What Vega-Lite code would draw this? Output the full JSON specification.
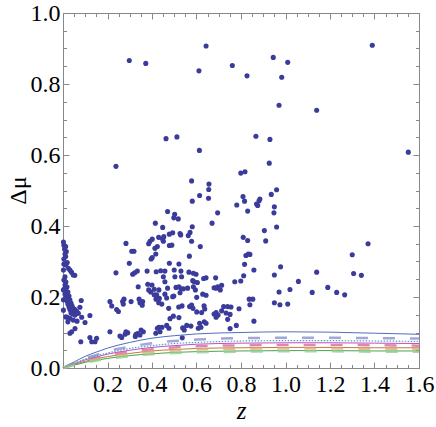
{
"$schema":"https://vega.github.io/schema/vega-lite/v6.json",
"width":356,"height":355,
"autosize":"none",
"padding":{"left":63,"top":13,"right":17,"bottom":59},
"background":"white",
"config":{"view":{"stroke":null},"axis":{"grid":false}},
"datasets":{
"pts":[
{"z":0.298,"m":0.866},{"z":0.372,"m":0.858},{"z":0.238,"m":0.568},{"z":0.463,"m":0.646},{"z":0.512,"m":0.651},{"z":0.613,"m":0.613},{"z":0.611,"m":0.837},{"z":0.643,"m":0.907},{"z":0.761,"m":0.852},{"z":0.827,"m":0.823},
{"z":0.578,"m":0.527},{"z":0.799,"m":0.549},{"z":0.818,"m":0.553},{"z":0.656,"m":0.518},{"z":0.655,"m":0.503},{"z":0.614,"m":0.486},{"z":0.654,"m":0.478},{"z":0.809,"m":0.483},{"z":0.945,"m":0.875},{"z":1.010,"m":0.861},
{"z":0.983,"m":0.819},{"z":0.971,"m":0.740},{"z":1.140,"m":0.726},{"z":1.390,"m":0.909},{"z":1.552,"m":0.608},{"z":0.867,"m":0.653},{"z":0.930,"m":0.644},{"z":0.927,"m":0.577},{"z":0.936,"m":0.489},{"z":0.960,"m":0.502},
{"z":0.885,"m":0.476},{"z":1.371,"m":0.350},{"z":1.300,"m":0.319},{"z":1.140,"m":0.270},{"z":1.306,"m":0.266},{"z":1.341,"m":0.261},{"z":1.190,"m":0.227},{"z":1.120,"m":0.213},{"z":1.230,"m":0.213},{"z":1.266,"m":0.206},
{"z":1.058,"m":0.244},{"z":0.781,"m":0.459},{"z":0.816,"m":0.470},{"z":0.830,"m":0.442},{"z":0.870,"m":0.462},{"z":0.875,"m":0.458},{"z":0.881,"m":0.471},{"z":0.950,"m":0.454},{"z":0.948,"m":0.437},{"z":0.960,"m":0.397},
{"z":0.905,"m":0.387},{"z":0.911,"m":0.358},{"z":0.810,"m":0.368},{"z":0.830,"m":0.359},{"z":0.822,"m":0.317},{"z":0.833,"m":0.321},{"z":0.840,"m":0.320},{"z":0.816,"m":0.292},{"z":0.858,"m":0.276},{"z":0.812,"m":0.260},
{"z":0.772,"m":0.243},{"z":0.799,"m":0.245},{"z":0.950,"m":0.262},{"z":0.978,"m":0.285},{"z":0.971,"m":0.214},{"z":1.020,"m":0.221},{"z":0.755,"m":0.172},{"z":0.791,"m":0.167},{"z":0.837,"m":0.194},{"z":0.853,"m":0.194},
{"z":0.840,"m":0.178},{"z":0.950,"m":0.184},{"z":0.975,"m":0.178},{"z":1.010,"m":0.180},{"z":0.751,"m":0.151},{"z":0.779,"m":0.120},{"z":0.858,"m":0.132},{"z":0.751,"m":0.111},{"z":0.695,"m":0.437},{"z":0.670,"m":0.408},
{"z":0.686,"m":0.254},{"z":0.679,"m":0.226},{"z":0.688,"m":0.225},{"z":0.713,"m":0.233},{"z":0.707,"m":0.220},{"z":0.688,"m":0.156},{"z":0.679,"m":0.152},{"z":0.688,"m":0.143},{"z":0.697,"m":0.149},{"z":0.713,"m":0.161},
{"z":0.722,"m":0.173},{"z":0.740,"m":0.173},{"z":0.733,"m":0.155},{"z":0.740,"m":0.137},{"z":0.581,"m":0.470},{"z":0.470,"m":0.441},{"z":0.502,"m":0.433},{"z":0.498,"m":0.423},{"z":0.518,"m":0.420},{"z":0.415,"m":0.408},
{"z":0.448,"m":0.396},{"z":0.581,"m":0.398},{"z":0.526,"m":0.379},{"z":0.529,"m":0.375},{"z":0.493,"m":0.381},{"z":0.478,"m":0.377},{"z":0.571,"m":0.382},{"z":0.563,"m":0.373},{"z":0.453,"m":0.370},{"z":0.448,"m":0.363},
{"z":0.430,"m":0.368},{"z":0.451,"m":0.357},{"z":0.401,"m":0.363},{"z":0.391,"m":0.357},{"z":0.385,"m":0.350},{"z":0.283,"m":0.351},{"z":0.578,"m":0.357},{"z":0.478,"m":0.345},{"z":0.489,"m":0.346},{"z":0.413,"m":0.337},
{"z":0.424,"m":0.342},{"z":0.617,"m":0.342},{"z":0.309,"m":0.329},{"z":0.319,"m":0.329},{"z":0.298,"m":0.295},{"z":0.322,"m":0.268},{"z":0.313,"m":0.264},{"z":0.378,"m":0.273},{"z":0.419,"m":0.271},{"z":0.439,"m":0.274},
{"z":0.458,"m":0.273},{"z":0.417,"m":0.321},{"z":0.401,"m":0.311},{"z":0.396,"m":0.307},{"z":0.478,"m":0.295},{"z":0.521,"m":0.293},{"z":0.500,"m":0.276},{"z":0.530,"m":0.273},{"z":0.451,"m":0.257},{"z":0.458,"m":0.243},
{"z":0.568,"m":0.315},{"z":0.566,"m":0.270},{"z":0.586,"m":0.267},{"z":0.598,"m":0.264},{"z":0.590,"m":0.243},{"z":0.604,"m":0.241},{"z":0.643,"m":0.254},{"z":0.695,"m":0.229},{"z":0.381,"m":0.236},{"z":0.400,"m":0.234},
{"z":0.385,"m":0.220},{"z":0.394,"m":0.214},{"z":0.410,"m":0.222},{"z":0.410,"m":0.206},{"z":0.418,"m":0.194},{"z":0.433,"m":0.196},{"z":0.530,"m":0.223},{"z":0.541,"m":0.223},{"z":0.526,"m":0.212},{"z":0.560,"m":0.225},
{"z":0.498,"m":0.203},{"z":0.466,"m":0.197},{"z":0.628,"m":0.208},{"z":0.643,"m":0.205},{"z":0.274,"m":0.194},{"z":0.268,"m":0.187},{"z":0.271,"m":0.180},{"z":0.306,"m":0.187},{"z":0.342,"m":0.194},{"z":0.346,"m":0.184},
{"z":0.358,"m":0.187},{"z":0.356,"m":0.177},{"z":0.444,"m":0.180},{"z":0.430,"m":0.184},{"z":0.475,"m":0.168},{"z":0.520,"m":0.172},{"z":0.535,"m":0.175},{"z":0.569,"m":0.173},{"z":0.584,"m":0.168},{"z":0.578,"m":0.177},
{"z":0.634,"m":0.175},{"z":0.637,"m":0.166},{"z":0.601,"m":0.158},{"z":0.623,"m":0.156},{"z":0.496,"m":0.146},{"z":0.481,"m":0.139},{"z":0.521,"m":0.142},{"z":0.445,"m":0.115},{"z":0.431,"m":0.115},{"z":0.424,"m":0.112},
{"z":0.417,"m":0.098},{"z":0.466,"m":0.120},{"z":0.476,"m":0.112},{"z":0.556,"m":0.120},{"z":0.575,"m":0.118},{"z":0.538,"m":0.113},{"z":0.545,"m":0.107},{"z":0.608,"m":0.112},{"z":0.620,"m":0.115},{"z":0.635,"m":0.130},
{"z":0.643,"m":0.126},{"z":0.614,"m":0.126},{"z":0.351,"m":0.107},{"z":0.361,"m":0.102},{"z":0.336,"m":0.097},{"z":0.325,"m":0.089},{"z":0.328,"m":0.095},{"z":0.283,"m":0.102},{"z":0.291,"m":0.099},{"z":0.279,"m":0.095},
{"z":0.536,"m":0.085},{"z":0.238,"m":0.268},{"z":0.211,"m":0.187},{"z":0.219,"m":0.175},{"z":0.241,"m":0.165},{"z":0.249,"m":0.159},{"z":0.264,"m":0.086},{"z":0.334,"m":0.273},{"z":0.338,"m":0.229},{"z":0.431,"m":0.220},
{"z":0.421,"m":0.206},{"z":0.470,"m":0.225},{"z":0.458,"m":0.208},{"z":0.508,"m":0.227},{"z":0.521,"m":0.229},{"z":0.493,"m":0.201},{"z":0.586,"m":0.229},{"z":0.595,"m":0.220},{"z":0.601,"m":0.199},{"z":0.503,"m":0.257},
{"z":0.533,"m":0.257},{"z":0.632,"m":0.252},{"z":0.583,"m":0.246},
{"z":0.002,"m":0.355},{"z":0.004,"m":0.346},{"z":0.012,"m":0.342},{"z":0.007,"m":0.335},{"z":0.015,"m":0.328},{"z":0.009,"m":0.321},{"z":0.012,"m":0.314},{"z":0.004,"m":0.307},{"z":0.019,"m":0.297},{"z":0.013,"m":0.290},
{"z":0.024,"m":0.281},{"z":0.031,"m":0.276},{"z":0.038,"m":0.270},{"z":0.046,"m":0.262},{"z":0.053,"m":0.261},{"z":0.009,"m":0.257},{"z":0.004,"m":0.248},{"z":0.013,"m":0.242},{"z":0.009,"m":0.234},{"z":0.018,"m":0.228},
{"z":0.007,"m":0.223},{"z":0.013,"m":0.217},{"z":0.022,"m":0.214},{"z":0.009,"m":0.208},{"z":0.018,"m":0.204},{"z":0.027,"m":0.203},{"z":0.013,"m":0.197},{"z":0.022,"m":0.194},{"z":0.031,"m":0.192},{"z":0.018,"m":0.189},
{"z":0.027,"m":0.186},{"z":0.036,"m":0.183},{"z":0.022,"m":0.180},{"z":0.031,"m":0.177},{"z":0.040,"m":0.176},{"z":0.027,"m":0.172},{"z":0.036,"m":0.170},{"z":0.045,"m":0.169},{"z":0.054,"m":0.165},{"z":0.031,"m":0.165},
{"z":0.040,"m":0.162},{"z":0.049,"m":0.161},{"z":0.062,"m":0.159},{"z":0.069,"m":0.154},{"z":0.036,"m":0.155},{"z":0.045,"m":0.152},{"z":0.054,"m":0.149},{"z":0.013,"m":0.144},{"z":0.019,"m":0.143},{"z":0.031,"m":0.140},
{"z":0.046,"m":0.135},{"z":0.082,"m":0.190},{"z":0.076,"m":0.171},{"z":0.084,"m":0.143},{"z":0.121,"m":0.148},{"z":0.099,"m":0.128},{"z":0.054,"m":0.111},{"z":0.031,"m":0.098},{"z":0.039,"m":0.102},{"z":0.121,"m":0.086},
{"z":0.151,"m":0.084},{"z":0.022,"m":0.130},{"z":0.063,"m":0.132},{"z":0.002,"m":0.163},{"z":0.002,"m":0.192},{"z":0.002,"m":0.220},{"z":0.002,"m":0.276},{"z":0.004,"m":0.293},{"z":0.080,"m":0.074},{"z":0.129,"m":0.074},
{"z":0.144,"m":0.074},{"z":0.256,"m":0.090},{"z":0.346,"m":0.093},{"z":0.436,"m":0.102},{"z":0.211,"m":0.102}
],
"cur":[
{"s":"A","z":0,"m":0},{"s":"A","z":0.025,"m":0.009},{"s":"A","z":0.05,"m":0.017},{"s":"A","z":0.1,"m":0.033},{"s":"A","z":0.15,"m":0.045},{"s":"A","z":0.2,"m":0.056},{"s":"A","z":0.3,"m":0.072},{"s":"A","z":0.4,"m":0.084},{"s":"A","z":0.5,"m":0.091},{"s":"A","z":0.6,"m":0.096},{"s":"A","z":0.8,"m":0.1},{"s":"A","z":1.0,"m":0.102},{"s":"A","z":1.2,"m":0.101},{"s":"A","z":1.4,"m":0.098},{"s":"A","z":1.6,"m":0.095},
{"s":"B","z":0,"m":0},{"s":"B","z":0.025,"m":0.008},{"s":"B","z":0.05,"m":0.014},{"s":"B","z":0.1,"m":0.027},{"s":"B","z":0.15,"m":0.037},{"s":"B","z":0.2,"m":0.047},{"s":"B","z":0.3,"m":0.06},{"s":"B","z":0.4,"m":0.07},{"s":"B","z":0.5,"m":0.076},{"s":"B","z":0.6,"m":0.08},{"s":"B","z":0.8,"m":0.084},{"s":"B","z":1.0,"m":0.085},{"s":"B","z":1.2,"m":0.085},{"s":"B","z":1.4,"m":0.084},{"s":"B","z":1.6,"m":0.083},
{"s":"C","z":0,"m":0},{"s":"C","z":0.025,"m":0.007},{"s":"C","z":0.05,"m":0.013},{"s":"C","z":0.1,"m":0.025},{"s":"C","z":0.15,"m":0.034},{"s":"C","z":0.2,"m":0.042},{"s":"C","z":0.3,"m":0.055},{"s":"C","z":0.4,"m":0.063},{"s":"C","z":0.5,"m":0.069},{"s":"C","z":0.6,"m":0.072},{"s":"C","z":0.8,"m":0.076},{"s":"C","z":1.0,"m":0.077},{"s":"C","z":1.2,"m":0.077},{"s":"C","z":1.4,"m":0.076},{"s":"C","z":1.6,"m":0.075},
{"s":"D","z":0,"m":0},{"s":"D","z":0.025,"m":0.006},{"s":"D","z":0.05,"m":0.012},{"s":"D","z":0.1,"m":0.023},{"s":"D","z":0.15,"m":0.031},{"s":"D","z":0.2,"m":0.039},{"s":"D","z":0.3,"m":0.05},{"s":"D","z":0.4,"m":0.058},{"s":"D","z":0.5,"m":0.063},{"s":"D","z":0.6,"m":0.067},{"s":"D","z":0.8,"m":0.07},{"s":"D","z":1.0,"m":0.071},{"s":"D","z":1.2,"m":0.071},{"s":"D","z":1.4,"m":0.07},{"s":"D","z":1.6,"m":0.069},
{"s":"E","z":0,"m":0},{"s":"E","z":0.025,"m":0.006},{"s":"E","z":0.05,"m":0.011},{"s":"E","z":0.1,"m":0.021},{"s":"E","z":0.15,"m":0.029},{"s":"E","z":0.2,"m":0.036},{"s":"E","z":0.3,"m":0.046},{"s":"E","z":0.4,"m":0.053},{"s":"E","z":0.5,"m":0.058},{"s":"E","z":0.6,"m":0.061},{"s":"E","z":0.8,"m":0.064},{"s":"E","z":1.0,"m":0.065},{"s":"E","z":1.2,"m":0.065},{"s":"E","z":1.4,"m":0.064},{"s":"E","z":1.6,"m":0.063},
{"s":"F","z":0,"m":0},{"s":"F","z":0.025,"m":0.005},{"s":"F","z":0.05,"m":0.01},{"s":"F","z":0.1,"m":0.019},{"s":"F","z":0.15,"m":0.026},{"s":"F","z":0.2,"m":0.032},{"s":"F","z":0.3,"m":0.041},{"s":"F","z":0.4,"m":0.048},{"s":"F","z":0.5,"m":0.052},{"s":"F","z":0.6,"m":0.055},{"s":"F","z":0.8,"m":0.057},{"s":"F","z":1.0,"m":0.058},{"s":"F","z":1.2,"m":0.058},{"s":"F","z":1.4,"m":0.057},{"s":"F","z":1.6,"m":0.057},
{"s":"G","z":0,"m":0},{"s":"G","z":0.025,"m":0.005},{"s":"G","z":0.05,"m":0.009},{"s":"G","z":0.1,"m":0.018},{"s":"G","z":0.15,"m":0.024},{"s":"G","z":0.2,"m":0.03},{"s":"G","z":0.3,"m":0.039},{"s":"G","z":0.4,"m":0.045},{"s":"G","z":0.5,"m":0.049},{"s":"G","z":0.6,"m":0.052},{"s":"G","z":0.8,"m":0.054},{"s":"G","z":1.0,"m":0.055},{"s":"G","z":1.2,"m":0.055},{"s":"G","z":1.4,"m":0.054},{"s":"G","z":1.6,"m":0.054},
{"s":"H","z":0,"m":0},{"s":"H","z":0.025,"m":0.004},{"s":"H","z":0.05,"m":0.008},{"s":"H","z":0.1,"m":0.016},{"s":"H","z":0.15,"m":0.022},{"s":"H","z":0.2,"m":0.027},{"s":"H","z":0.3,"m":0.035},{"s":"H","z":0.4,"m":0.04},{"s":"H","z":0.5,"m":0.044},{"s":"H","z":0.6,"m":0.046},{"s":"H","z":0.8,"m":0.048},{"s":"H","z":1.0,"m":0.049},{"s":"H","z":1.2,"m":0.049},{"s":"H","z":1.4,"m":0.048},{"s":"H","z":1.6,"m":0.048},
{"s":"I","z":0,"m":0},{"s":"I","z":0.025,"m":0.004},{"s":"I","z":0.05,"m":0.008},{"s":"I","z":0.1,"m":0.015},{"s":"I","z":0.15,"m":0.021},{"s":"I","z":0.2,"m":0.026},{"s":"I","z":0.3,"m":0.033},{"s":"I","z":0.4,"m":0.039},{"s":"I","z":0.5,"m":0.042},{"s":"I","z":0.6,"m":0.044},{"s":"I","z":0.8,"m":0.046},{"s":"I","z":1.0,"m":0.047},{"s":"I","z":1.2,"m":0.047},{"s":"I","z":1.4,"m":0.046},{"s":"I","z":1.6,"m":0.046}
]},
"resolve":{"axis":{"x":"independent","y":"independent"}},
"layer":[
{"data":{"name":"pts"},
 "mark":{"type":"circle","size":26,"opacity":1,"color":"#3b3b9b"},
 "encoding":{
  "x":{"field":"z","type":"quantitative","scale":{"domain":[0,1.6],"nice":false,"zero":false},
       "axis":{"orient":"bottom","values":[0.2,0.4,0.6,0.8,1.0,1.2,1.4,1.6],"format":".1f","grid":false,"domainColor":"#888888","tickColor":"#888888","tickSize":-6,"labelFont":"Liberation Serif","labelFontSize":24,"labelColor":"#000000","labelPadding":29,"labelBaseline":"alphabetic","labelFlush":false,"labelOverlap":false,"title":"z","titleFont":"Liberation Serif","titleFontSize":25,"titleFontWeight":"normal","titleColor":"#000000","titleFontStyle":"italic","titleY":50,"titleBaseline":"alphabetic","titleX":178}},
  "y":{"field":"m","type":"quantitative","scale":{"domain":[0,1],"nice":false,"zero":false},
       "axis":{"orient":"left","values":[0,0.2,0.4,0.6,0.8,1.0],"format":".1f","grid":false,"domainColor":"#888888","tickColor":"#888888","tickSize":-6,"labelFont":"Liberation Serif","labelFontSize":24,"labelColor":"#000000","labelPadding":9,"labelBaseline":"middle","labelFlush":false,"labelOverlap":false,"title":"Δμ","titleFont":"Liberation Serif","titleFontSize":24,"titleFontWeight":"normal","titleColor":"#000000","titleAngle":-90,"titleX":-38,"titleY":177,"titleBaseline":"alphabetic","titleAlign":"center"}}
 }},
{"data":{"name":"cur"},
 "transform":[{"filter":"datum.s==='A'||datum.s==='D'||datum.s==='F'||datum.s==='H'"}],
 "mark":{"type":"line","strokeWidth":1,"interpolate":"monotone"},
 "encoding":{
  "x":{"field":"z","type":"quantitative","scale":{"domain":[0,1.6],"nice":false,"zero":false},
       "axis":{"orient":"bottom","values":[0,0.05,0.1,0.15,0.25,0.3,0.35,0.45,0.5,0.55,0.65,0.7,0.75,0.85,0.9,0.95,1.05,1.1,1.15,1.25,1.3,1.35,1.45,1.5,1.55],"grid":false,"domainColor":"#888888","tickColor":"#888888","labels":false,"tickSize":-3.5,"title":null}},
  "y":{"field":"m","type":"quantitative","scale":{"domain":[0,1],"nice":false,"zero":false},
       "axis":{"orient":"left","values":[0.05,0.1,0.15,0.25,0.3,0.35,0.45,0.5,0.55,0.65,0.7,0.75,0.85,0.9,0.95],"grid":false,"domainColor":"#888888","tickColor":"#888888","labels":false,"tickSize":-3.5,"title":null}},
  "color":{"field":"s","type":"nominal","legend":null,"scale":{"domain":["A","B","C","D","E","F","G","H","I"],"range":["#4d6ec0","#8f8fd0","#4fa3c4","#c04cc0","#d66a9e","#c07a3c","#dcae7c","#4ea04e","#8fd08f"]}}
 }},
{"data":{"name":"cur"},
 "transform":[{"filter":"datum.s==='B'||datum.s==='E'||datum.s==='G'||datum.s==='I'"}],
 "mark":{"type":"line","strokeWidth":2.5,"strokeDash":[12,15],"opacity":0.8,"interpolate":"monotone"},
 "encoding":{
  "x":{"field":"z","type":"quantitative","scale":{"domain":[0,1.6],"nice":false,"zero":false},
       "axis":{"orient":"top","values":[0.2,0.4,0.6,0.8,1.0,1.2,1.4,1.6],"grid":false,"domainColor":"#888888","tickColor":"#888888","labels":false,"tickSize":-6,"title":null}},
  "y":{"field":"m","type":"quantitative","scale":{"domain":[0,1],"nice":false,"zero":false},
       "axis":{"orient":"right","values":[0,0.2,0.4,0.6,0.8,1.0],"grid":false,"domainColor":"#888888","tickColor":"#888888","labels":false,"tickSize":-6,"title":null}},
  "color":{"field":"s","type":"nominal","legend":null,"scale":{"domain":["A","B","C","D","E","F","G","H","I"],"range":["#4d6ec0","#8f8fd0","#4fa3c4","#c04cc0","#d66a9e","#c07a3c","#dcae7c","#4ea04e","#8fd08f"]}}
 }},
{"data":{"name":"cur"},
 "transform":[{"filter":"datum.s==='C'"}],
 "mark":{"type":"line","strokeWidth":1.2,"strokeDash":[1.5,1.5],"interpolate":"monotone"},
 "encoding":{
  "x":{"field":"z","type":"quantitative","scale":{"domain":[0,1.6],"nice":false,"zero":false},
       "axis":{"orient":"top","values":[0,0.05,0.1,0.15,0.25,0.3,0.35,0.45,0.5,0.55,0.65,0.7,0.75,0.85,0.9,0.95,1.05,1.1,1.15,1.25,1.3,1.35,1.45,1.5,1.55],"grid":false,"domainColor":"#888888","tickColor":"#888888","labels":false,"tickSize":-3.5,"title":null}},
  "y":{"field":"m","type":"quantitative","scale":{"domain":[0,1],"nice":false,"zero":false},
       "axis":{"orient":"right","values":[0.05,0.1,0.15,0.25,0.3,0.35,0.45,0.5,0.55,0.65,0.7,0.75,0.85,0.9,0.95],"grid":false,"domainColor":"#888888","tickColor":"#888888","labels":false,"tickSize":-3.5,"title":null}},
  "color":{"field":"s","type":"nominal","legend":null,"scale":{"domain":["A","B","C","D","E","F","G","H","I"],"range":["#4d6ec0","#8f8fd0","#4fa3c4","#c04cc0","#d66a9e","#c07a3c","#dcae7c","#4ea04e","#8fd08f"]}}
 }}
]
}
